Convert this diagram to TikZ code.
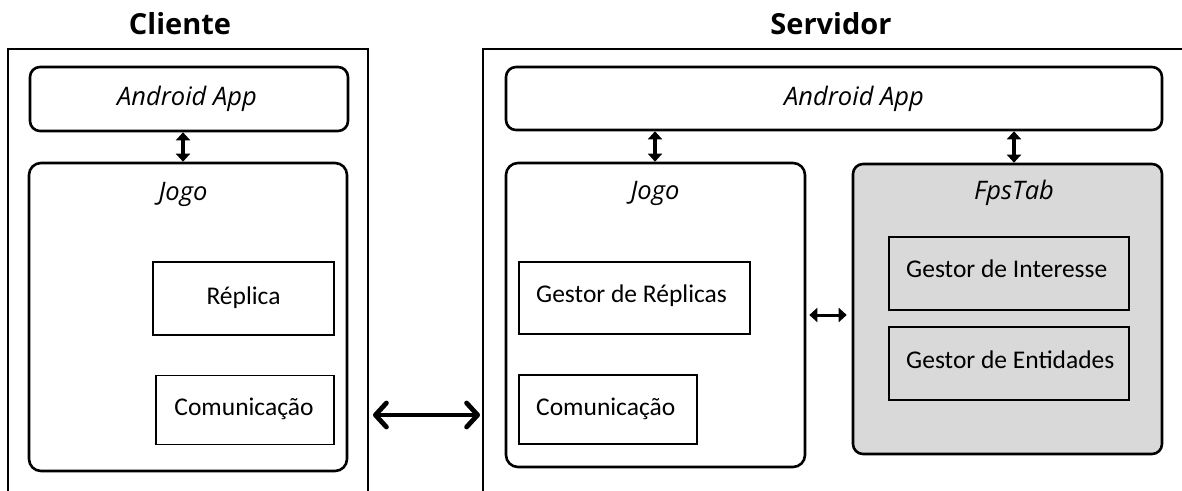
\documentclass[tikz,border=0pt]{standalone}
\usepackage{fontspec}
\setmainfont{Carlito}
\newfontfamily\osans{Open Sans}
\usetikzlibrary{arrows.meta}
\definecolor{panelgray}{HTML}{D9D9D9}
\tikzset{
  x=1pt, y=-1pt,
  frame/.style={line width=2.5pt},
  appbox/.style={draw, line width=2.6pt, rounded corners=10pt, inner sep=0pt},
  jogobox/.style={draw, line width=2.6pt, rounded corners=12pt, inner sep=0pt},
  modbox/.style={draw, line width=1.8pt, inner sep=0pt},
  title/.style={font=\osans\bfseries\fontsize{29}{33}\selectfont, inner sep=0pt},
  itlabel/.style={font=\osans\itshape\fontsize{25.5}{30}\selectfont, inner sep=0pt},
  modtext/.style={font=\fontsize{25.5}{30}\selectfont, inner sep=0pt},
  smallarrow/.style={line width=3.4pt, {Triangle[length=8pt,width=14pt]}-{Triangle[length=8pt,width=14pt]}},
  bigarrow/.style={line width=4.8pt, line cap=round, {Straight Barb[length=11pt,width=24pt,round]}-{Straight Barb[length=11pt,width=24pt,round]}},
}
\begin{document}
\begin{tikzpicture}
\useasboundingbox (0,0) rectangle (1182,490);
% outer frames
\draw[frame] (8,492) -- (8,49) -- (368,49) -- (368,492);
\draw[frame] (483,492) -- (483,49) -- (1184,49);
% titles
\node[title] (tCli) at (180,24) {Cliente};
\node[title] (tSrv) at (831,24) {Servidor};
% client
\node[appbox, minimum width=318pt, minimum height=64pt] (cApp) at (189,99) {};
\node[itlabel] (cAppT) at (187,99) {Android App};
\node[jogobox, minimum width=318pt, minimum height=308pt] (cJogo) at (188,317) {};
\node[itlabel] (cJogoT) at (183,194) {Jogo};
\node[modbox, minimum width=181pt, minimum height=73pt] (cRep) at (243.5,298.5) {};
\node[modtext] (cRepT) at (243.5,298) {Réplica};
\node[modbox, minimum width=178pt, minimum height=69pt] (cCom) at (245,410) {};
\node[modtext] (cComT) at (244,409) {Comunicação};
\draw[smallarrow] (cApp.south -| cJogoT.center) -- (cJogo.north -| cJogoT.center);
% server
\node[appbox, minimum width=656pt, minimum height=63pt] (sApp) at (834,98.5) {};
\node[itlabel] (sAppT) at (854,99) {Android App};
\node[jogobox, minimum width=299pt, minimum height=304pt] (sJogo) at (655.5,315) {};
\node[itlabel] (sJogoT) at (655,193) {Jogo};
\node[modbox, minimum width=231pt, minimum height=72pt] (sRep) at (634.5,298) {};
\node[modtext, anchor=west] (sRepT) at (536,296) {Gestor de Réplicas};
\node[modbox, minimum width=178pt, minimum height=69pt] (sCom) at (608,409.5) {};
\node[modtext, anchor=west] (sComT) at (536,409) {Comunicação};
\node[jogobox, fill=panelgray, rounded corners=10pt, minimum width=309pt, minimum height=290pt] (fps) at (1007.5,309) {};
\node[itlabel] (fpsT) at (1014,193) {FpsTab};
\node[modbox, fill=panelgray, minimum width=240pt, minimum height=73pt] (gInt) at (1009,273.5) {};
\node[modtext, anchor=west] (gIntT) at (906,269) {Gestor de Interesse};
\node[modbox, fill=panelgray, minimum width=240pt, minimum height=73pt] (gEnt) at (1009,363.5) {};
\node[modtext, anchor=west] (gEntT) at (906,360) {Gestor de Entidades};
\draw[smallarrow] (sApp.south -| sJogoT.center) -- (sJogo.north -| sJogoT.center);
\draw[smallarrow] (sApp.south -| fpsT.center) -- (fps.north -| fpsT.center);
\draw[smallarrow, line width=3pt, shorten <=3pt, shorten >=5pt] (sJogo.east) -- (sJogo.east -| fps.west);
% client-server link
\coordinate (cEdge) at (368,415);
\coordinate (sEdge) at (483,415);
\draw[bigarrow, shorten <=5pt, shorten >=3pt] (cEdge) -- (sEdge);
\end{tikzpicture}
\end{document}
